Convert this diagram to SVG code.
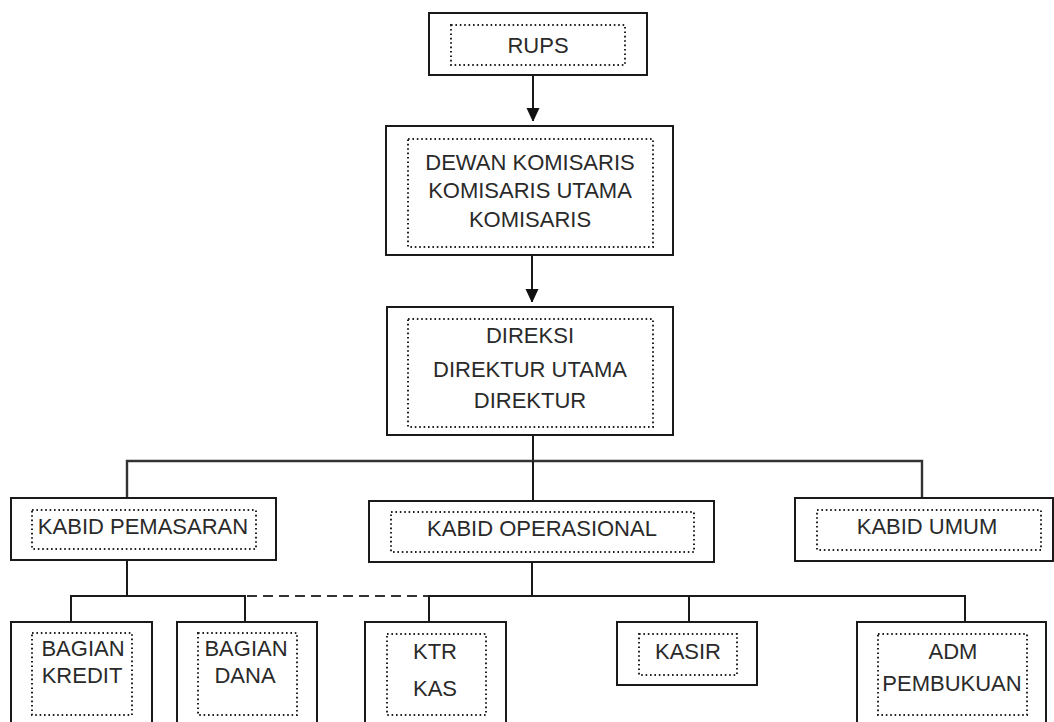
<svg xmlns="http://www.w3.org/2000/svg" width="1054" height="722" viewBox="0 0 1054 722">
<style>
.box{fill:#fff;stroke:#1a1a1a;stroke-width:2}
.inner{fill:none;stroke:#222;stroke-width:2;stroke-dasharray:1.6 2.8}
.t{font-family:"Liberation Sans",Arial,sans-serif;font-size:22px;fill:#2a2a2a;text-anchor:middle}
.ln{fill:none;stroke:#1a1a1a;stroke-width:2}
.dash{fill:none;stroke:#333;stroke-width:2.2;stroke-dasharray:10 6}
</style>
<defs>
<marker id="arr" markerWidth="13" markerHeight="14" refX="13" refY="6.5" orient="auto" markerUnits="userSpaceOnUse">
<path d="M0,0 L14,6.5 L0,13 Z" fill="#111"/>
</marker>
</defs>
<rect width="1054" height="722" fill="#fff"/>
<g id="connectors">
<line class="ln" x1="533" y1="75" x2="533" y2="121" marker-end="url(#arr)"/>
<line class="ln" x1="532" y1="255" x2="532" y2="302" marker-end="url(#arr)"/>
<line class="ln" x1="533" y1="436" x2="533" y2="461"/>
<polyline class="ln" points="127,498 127,461 922,461 922,498" style="stroke:#333;stroke-width:2.4"/>
<line class="ln" x1="533" y1="461" x2="533" y2="501"/>
<polyline class="ln" points="127,561 127,596"/>
<polyline class="ln" points="71,622 71,596 245,596 245,622"/>
<line class="dash" x1="247" y1="596" x2="428" y2="596"/>
<polyline class="ln" points="429,622 429,596 965,596 965,622"/>
<line class="ln" x1="532" y1="562" x2="532" y2="596"/>
<line class="ln" x1="689" y1="596" x2="689" y2="622"/>
</g>
<g id="rups">
<rect class="box" x="429" y="13" width="218" height="62"/>
<rect class="inner" x="451" y="25" width="174" height="40"/>
<text class="t" x="538" y="53">RUPS</text>
</g>
<g id="dewan-komisaris">
<rect class="box" x="386" y="126" width="287" height="129"/>
<rect class="inner" x="408" y="139" width="245" height="108"/>
<text class="t" x="530" y="170">DEWAN KOMISARIS</text>
<text class="t" x="530" y="198">KOMISARIS UTAMA</text>
<text class="t" x="530" y="227">KOMISARIS</text>
</g>
<g id="direksi">
<rect class="box" x="387" y="307" width="286" height="128"/>
<rect class="inner" x="408" y="319" width="245" height="108"/>
<text class="t" x="530" y="343">DIREKSI</text>
<text class="t" x="530" y="377">DIREKTUR UTAMA</text>
<text class="t" x="530" y="408">DIREKTUR</text>
</g>
<g id="kabid-pemasaran">
<rect class="box" x="11" y="498" width="265" height="62"/>
<rect class="inner" x="32" y="510" width="224" height="39"/>
<text class="t" x="143" y="534">KABID PEMASARAN</text>
</g>
<g id="kabid-operasional">
<rect class="box" x="369" y="501" width="345" height="61"/>
<rect class="inner" x="391" y="512" width="303" height="40"/>
<text class="t" x="542" y="536">KABID OPERASIONAL</text>
</g>
<g id="kabid-umum">
<rect class="box" x="795" y="498" width="258" height="63"/>
<rect class="inner" x="817" y="510" width="224" height="40"/>
<text class="t" x="927" y="534">KABID UMUM</text>
</g>
<g id="bagian-kredit">
<rect class="box" x="11" y="622" width="141" height="110"/>
<rect class="inner" x="32" y="633" width="100" height="82"/>
<text class="t" x="83" y="656">BAGIAN</text>
<text class="t" x="82" y="683">KREDIT</text>
</g>
<g id="bagian-dana">
<rect class="box" x="177" y="622" width="140" height="110"/>
<rect class="inner" x="198" y="633" width="99" height="82"/>
<text class="t" x="246" y="656">BAGIAN</text>
<text class="t" x="245" y="683">DANA</text>
</g>
<g id="ktr-kas">
<rect class="box" x="365" y="622" width="141" height="110"/>
<rect class="inner" x="387" y="634" width="99" height="81"/>
<text class="t" x="435" y="659">KTR</text>
<text class="t" x="435" y="696">KAS</text>
</g>
<g id="kasir">
<rect class="box" x="617" y="622" width="140" height="63"/>
<rect class="inner" x="639" y="634" width="98" height="41"/>
<text class="t" x="688" y="659">KASIR</text>
</g>
<g id="adm-pembukuan">
<rect class="box" x="857" y="622" width="189" height="110"/>
<rect class="inner" x="878" y="634" width="149" height="81"/>
<text class="t" x="953" y="659">ADM</text>
<text class="t" x="952" y="691">PEMBUKUAN</text>
</g>
</svg>
